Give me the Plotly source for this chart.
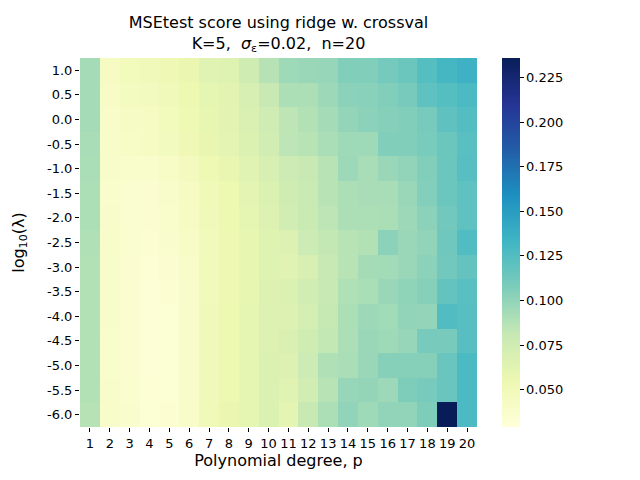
import plotly.graph_objects as go

# Ejes: grado del polinomio y log10(lambda)
grados = [str(p) for p in range(1, 21)]
lambdas = ["1.0", "0.5", "0.0", "-0.5", "-1.0", "-1.5", "-2.0", "-2.5",
           "-3.0", "-3.5", "-4.0", "-4.5", "-5.0", "-5.5", "-6.0"]

# MSE test por fila (una lista por valor de log10(lambda))
mse_1_0 = [0.093, 0.043, 0.048, 0.050, 0.052, 0.056, 0.064, 0.065, 0.075, 0.087,
           0.095, 0.097, 0.098, 0.106, 0.106, 0.111, 0.115, 0.124, 0.131, 0.135]
mse_0_5 = [0.093, 0.041, 0.045, 0.046, 0.050, 0.055, 0.060, 0.062, 0.070, 0.080,
           0.090, 0.090, 0.096, 0.102, 0.103, 0.106, 0.110, 0.120, 0.124, 0.128]
mse_0_0 = [0.093, 0.040, 0.042, 0.044, 0.048, 0.053, 0.059, 0.062, 0.068, 0.076,
           0.084, 0.088, 0.093, 0.099, 0.102, 0.104, 0.106, 0.110, 0.120, 0.125]
mse_m0_5 = [0.092, 0.040, 0.041, 0.043, 0.046, 0.052, 0.058, 0.061, 0.067, 0.074,
            0.084, 0.086, 0.091, 0.095, 0.095, 0.106, 0.106, 0.109, 0.115, 0.122]
mse_m1_0 = [0.091, 0.039, 0.038, 0.038, 0.041, 0.046, 0.053, 0.058, 0.064, 0.070,
            0.077, 0.080, 0.086, 0.096, 0.092, 0.097, 0.100, 0.106, 0.115, 0.123]
mse_m1_5 = [0.090, 0.038, 0.036, 0.035, 0.039, 0.044, 0.051, 0.055, 0.061, 0.067,
            0.075, 0.079, 0.086, 0.090, 0.092, 0.092, 0.097, 0.105, 0.115, 0.120]
mse_m2_0 = [0.090, 0.039, 0.036, 0.035, 0.038, 0.043, 0.050, 0.055, 0.060, 0.066,
            0.073, 0.079, 0.084, 0.090, 0.090, 0.091, 0.096, 0.102, 0.112, 0.120]
mse_m2_5 = [0.089, 0.040, 0.036, 0.034, 0.037, 0.041, 0.049, 0.054, 0.059, 0.065,
            0.066, 0.077, 0.082, 0.086, 0.088, 0.102, 0.097, 0.100, 0.113, 0.126]
mse_m3_0 = [0.088, 0.039, 0.035, 0.032, 0.035, 0.040, 0.049, 0.054, 0.059, 0.065,
            0.064, 0.070, 0.080, 0.086, 0.093, 0.094, 0.097, 0.102, 0.112, 0.118]
mse_m3_5 = [0.088, 0.039, 0.035, 0.031, 0.034, 0.039, 0.049, 0.054, 0.059, 0.066,
            0.067, 0.073, 0.080, 0.089, 0.091, 0.097, 0.101, 0.104, 0.118, 0.122]
mse_m4_0 = [0.088, 0.039, 0.035, 0.031, 0.033, 0.039, 0.050, 0.055, 0.060, 0.066,
            0.066, 0.072, 0.081, 0.090, 0.096, 0.094, 0.100, 0.099, 0.126, 0.123]
mse_m4_5 = [0.088, 0.038, 0.035, 0.031, 0.033, 0.039, 0.050, 0.055, 0.060, 0.066,
            0.068, 0.075, 0.082, 0.090, 0.097, 0.095, 0.098, 0.110, 0.110, 0.123]
mse_m5_0 = [0.088, 0.038, 0.035, 0.031, 0.033, 0.039, 0.050, 0.055, 0.060, 0.067,
            0.066, 0.077, 0.089, 0.091, 0.097, 0.104, 0.104, 0.104, 0.116, 0.128]
mse_m5_5 = [0.088, 0.039, 0.036, 0.032, 0.033, 0.039, 0.050, 0.055, 0.060, 0.067,
            0.064, 0.073, 0.086, 0.098, 0.099, 0.096, 0.107, 0.110, 0.116, 0.128]
mse_m6_0 = [0.087, 0.040, 0.037, 0.033, 0.034, 0.040, 0.051, 0.056, 0.060, 0.067,
            0.061, 0.080, 0.090, 0.100, 0.095, 0.100, 0.100, 0.107, 0.236, 0.128]

mse = [mse_1_0, mse_0_5, mse_0_0, mse_m0_5, mse_m1_0, mse_m1_5, mse_m2_0, mse_m2_5,
       mse_m3_0, mse_m3_5, mse_m4_0, mse_m4_5, mse_m5_0, mse_m5_5, mse_m6_0]

# YlGnBu de matplotlib
YLGNBU = [
    [0.000, "#ffffd9"], [0.125, "#edf8b1"], [0.250, "#c7e9b4"],
    [0.375, "#7fcdbb"], [0.500, "#41b6c4"], [0.625, "#1d91c0"],
    [0.750, "#225ea8"], [0.875, "#253494"], [1.000, "#081d58"],
]

FUENTE = "DejaVu Sans"

# la pagina agrega 8 px de margen al body, se compensa aqui
fig = go.Figure(go.Heatmap(
    x=grados,
    y=lambdas,
    z=mse,
    colorscale=YLGNBU,
    zmin=0.029,
    zmax=0.236,
    colorbar=dict(
        x=1.063, xanchor="left",
        y=0.5, yanchor="middle",
        len=1.0, lenmode="fraction",
        thickness=18,
        ypad=0, xpad=0,
        outlinewidth=0,
        tickmode="array",
        tickvals=[0.05, 0.075, 0.1, 0.125, 0.15, 0.175, 0.2, 0.225],
        ticktext=["0.050", "0.075", "0.100", "0.125", "0.150", "0.175", "0.200", "0.225"],
        ticks="outside", ticklen=4, tickcolor="black",
        tickfont=dict(family=FUENTE, size=13, color="black"),
    ),
))

fig.update_layout(
    width=640,
    height=480,
    paper_bgcolor="white",
    plot_bgcolor="white",
    margin=dict(l=72, r=171, t=50, b=61, autoexpand=False),
    title=dict(
        text="MSEtest score using ridge w. crossval<br>K=5,  <i>σ</i><sub>ε</sub>=0.02,  n=20",
        font=dict(family=FUENTE, size=16, color="black"),
        x=(72 + 397 / 2) / 640, xanchor="center",
        yref="container", y=1 - 20 / 480, yanchor="middle",
    ),
    font=dict(family=FUENTE, color="black"),
)

fig.update_xaxes(
    type="category",
    automargin=False,
    title=dict(text="Polynomial degree, p", font=dict(family=FUENTE, size=16), standoff=2),
    ticks="outside", ticklen=4, tickcolor="black",
    tickfont=dict(family=FUENTE, size=13),
    tickangle=0,
    showgrid=False, zeroline=False, showline=False,
)
fig.update_yaxes(
    type="category",
    automargin=False,
    autorange="reversed",
    title=dict(text="log<sub>10</sub>(λ)", font=dict(family=FUENTE, size=16), standoff=18),
    ticks="outside", ticklen=4, tickcolor="black",
    tickfont=dict(family=FUENTE, size=13),
    showgrid=False, zeroline=False, showline=False,
)

fig.write_html("out.html")
